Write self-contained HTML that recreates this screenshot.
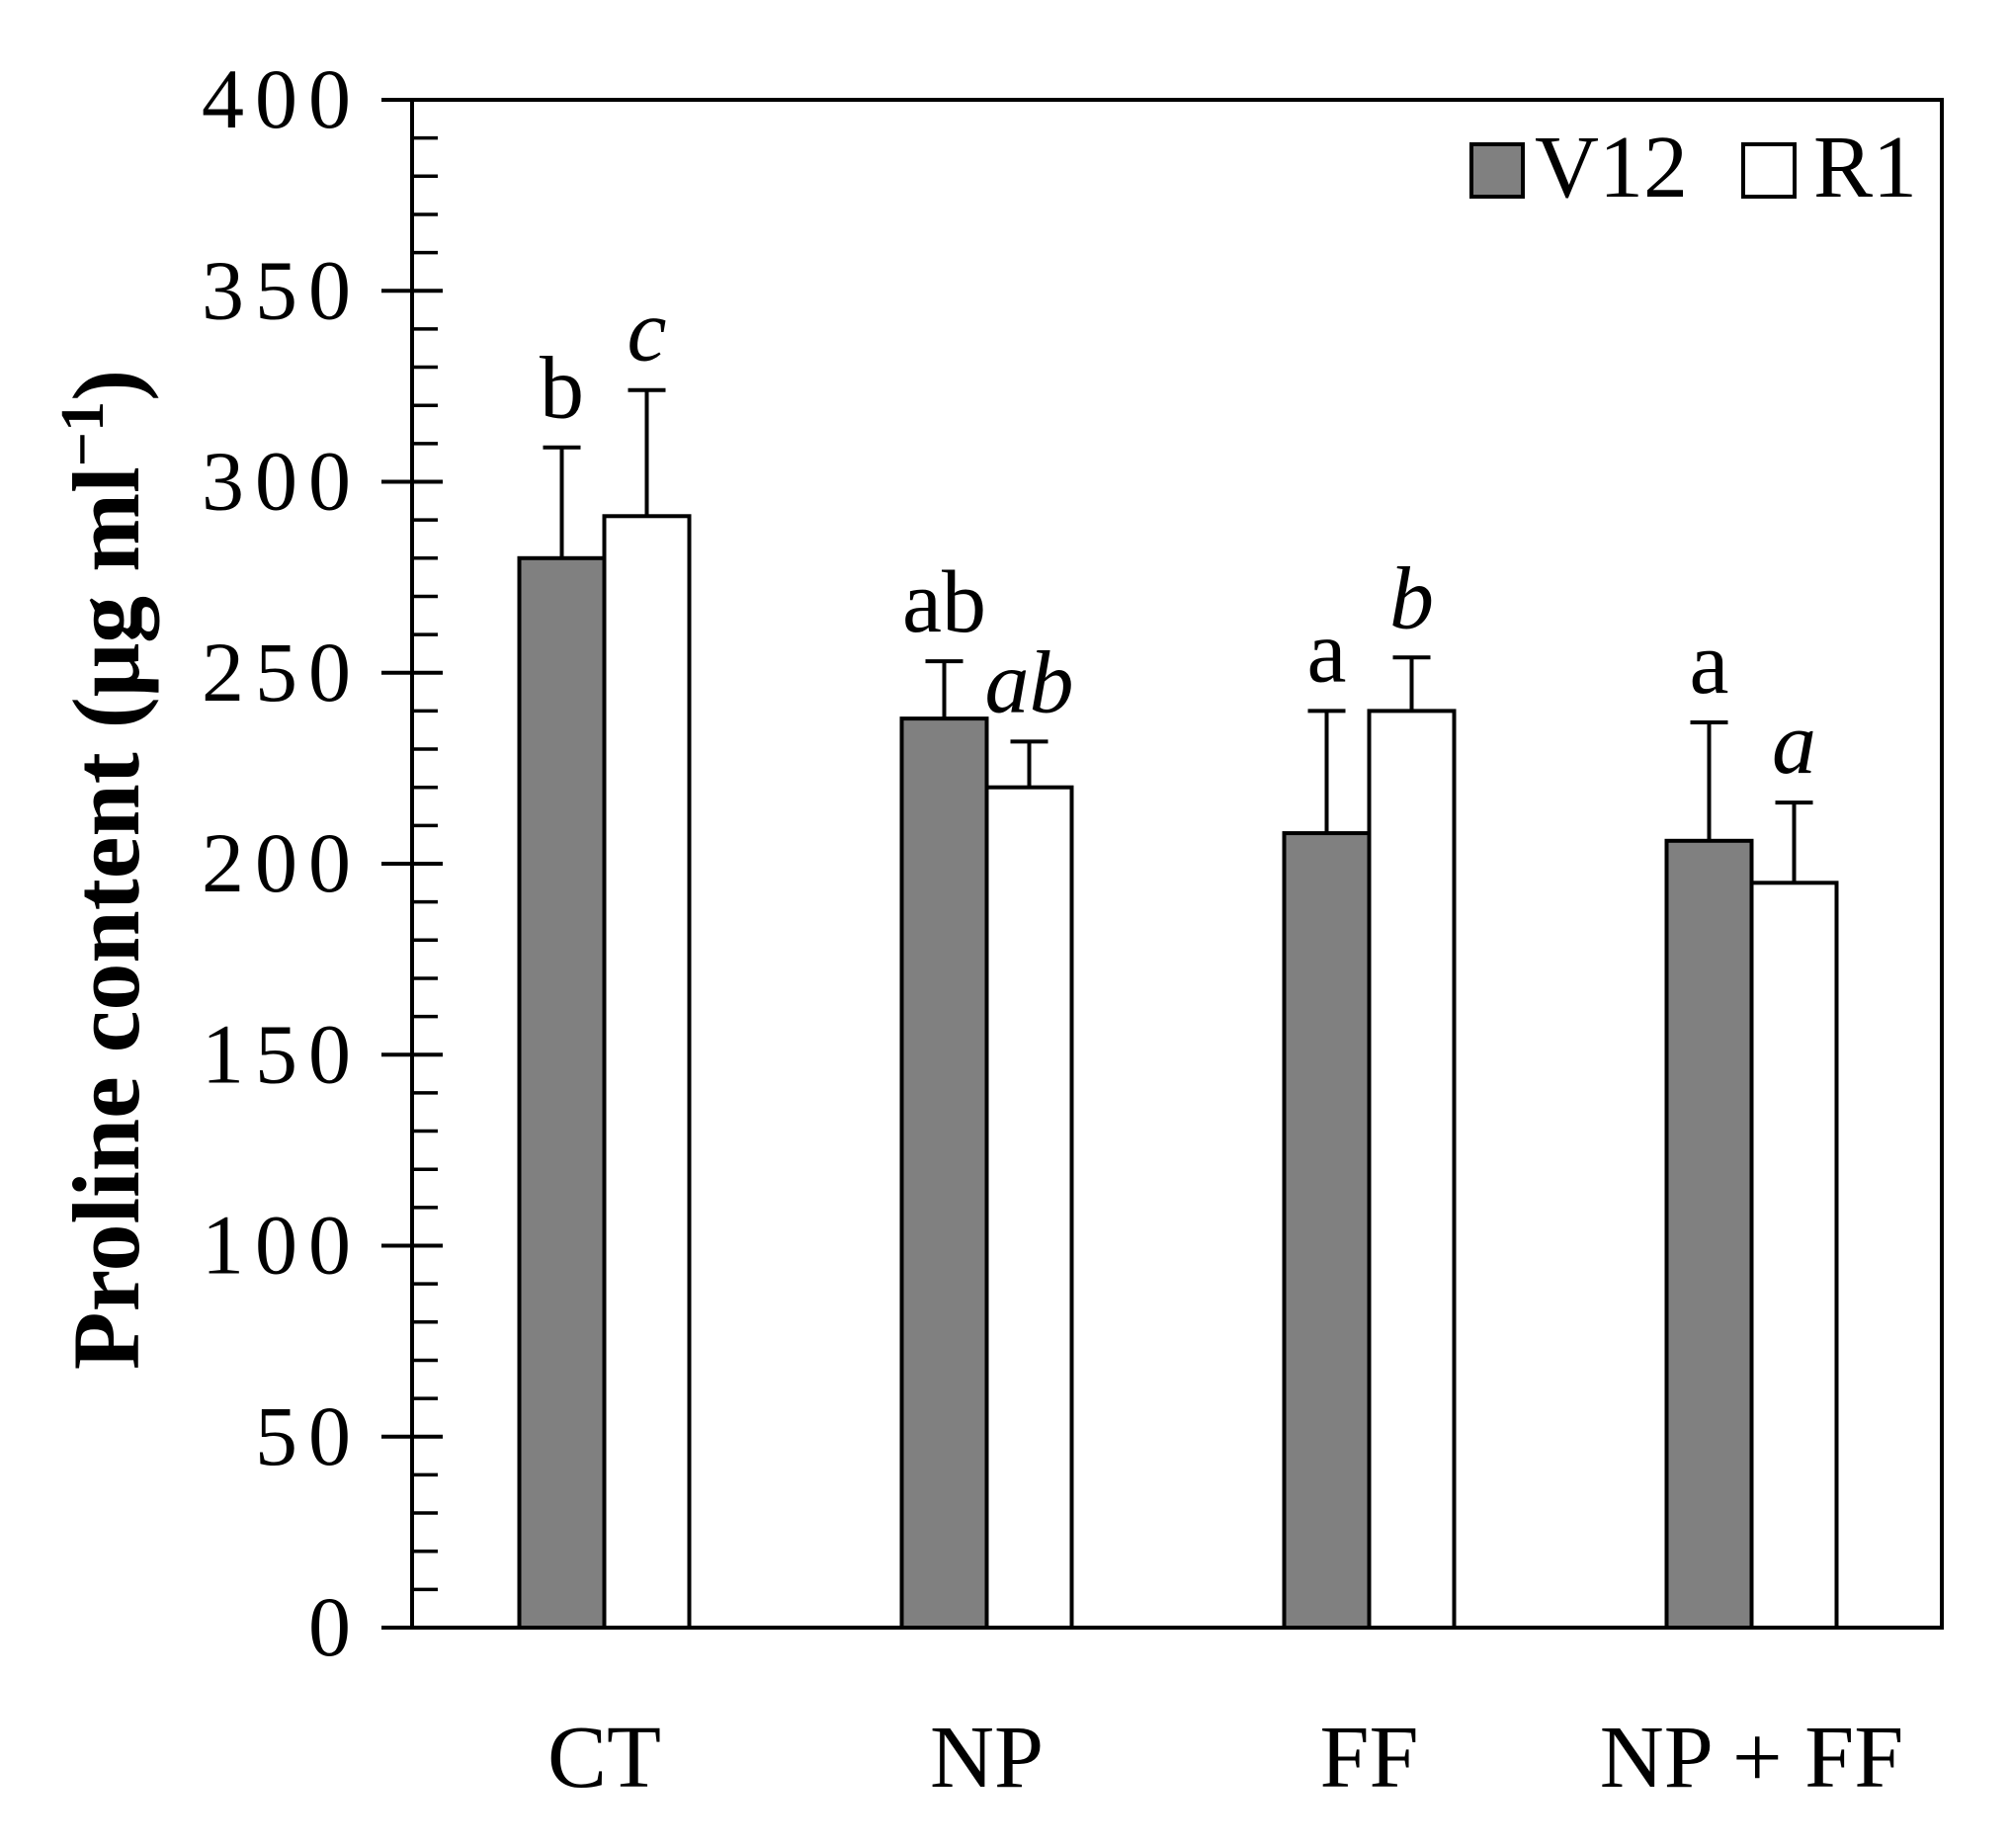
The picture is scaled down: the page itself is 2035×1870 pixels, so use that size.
<!DOCTYPE html>
<html><head><meta charset="utf-8"><style>
html,body{margin:0;padding:0;background:#fff;}
svg{display:block;font-family:"Liberation Serif",serif;}
</style></head><body>
<svg id="chart" width="2035" height="1870" viewBox="0 0 2035 1870">
<g id="axes"></g><g id="bars"></g>
<text transform="translate(140,880) rotate(-90)" text-anchor="middle" font-size="96" font-weight="bold">Proline content (μg ml<tspan font-size="62" dy="-36">−1</tspan><tspan dy="36">)</tspan></text>
<g>
<rect x="1489" y="146" width="52" height="53" fill="#808080" stroke="#000" stroke-width="4"/>
<text x="1553" y="199" font-size="90">V12</text>
<rect x="1764" y="146" width="52" height="53" fill="#fff" stroke="#000" stroke-width="4"/>
<text x="1835" y="199" font-size="90">R1</text>
</g>
</svg>
<script>
const categories=["CT","NP","FF","NP + FF"];
const v12=[280,238,208,206];
const v12Err=[29,15,32,31];
const r1=[291,220,240,195];
const r1Err=[33,12,14,21];
const v12Letters=["b","ab","a","a"];
const r1Letters=["c","ab","b","a"];
const yTicks=[0,50,100,150,200,250,300,350,400];

const NS="http://www.w3.org/2000/svg";
const L=417,R=1965,T=101,B=1647,yMax=400;
const y=v=>B-(v/yMax)*(B-T);
const groupW=(R-L)/4;
const cx=i=>L+groupW*(i+0.5)+1;
const bw=86;
function mk(tag,attrs,parent){const e=document.createElementNS(NS,tag);for(const k in attrs)e.setAttribute(k,attrs[k]);parent.appendChild(e);return e;}
const axes=document.getElementById('axes'),bars=document.getElementById('bars');
const fr=mk('rect',{x:L,y:T,width:R-L,height:B-T,fill:'none',stroke:'#000','stroke-width':4},axes);


for(let v=10;v<yMax;v+=10){
  if(v%50===0)continue;
  const t=mk('line',{x1:L,x2:L+26,y1:y(v),y2:y(v),stroke:'#000','stroke-width':3.5},axes);
  
  
}
yTicks.forEach(v=>{
  const t=mk('line',{x1:L-31,x2:L+(v===0||v===yMax?0:31),y1:y(v),y2:y(v),stroke:'#000','stroke-width':4},axes);
  
  
  const lb=mk('text',{x:366,y:y(v)+28,'text-anchor':'end','font-size':86,'letter-spacing':11},axes);
  lb.textContent=v;
  
  
});
categories.forEach((c,i)=>{
  const lb=mk('text',{x:cx(i),y:1808,'text-anchor':'middle','font-size':90},axes);
  lb.textContent=c;
  
  
  [[v12,v12Err,v12Letters,'#808080',-1,'normal','v12'],[r1,r1Err,r1Letters,'#fff',0,'italic','r1']].forEach(([vals,errs,lets,fill,off,style,nm])=>{
    const x0=cx(i)+off*bw;
    const b=mk('rect',{x:x0,y:y(vals[i]),width:bw,height:B-y(vals[i]),fill:fill,stroke:'#000','stroke-width':4},bars);
    
    
    const mx=x0+bw/2,top=y(vals[i]+errs[i]);
    const e=mk('path',{d:`M${mx},${y(vals[i])}V${top}M${mx-19},${top}H${mx+19}`,stroke:'#000','stroke-width':4,fill:'none'},bars);
    
    
    const t=mk('text',{x:mx,y:top-30,'text-anchor':'middle','font-size':90,'font-style':style},bars);
    t.textContent=lets[i];
    
    
  });
});
</script>
</body></html>
